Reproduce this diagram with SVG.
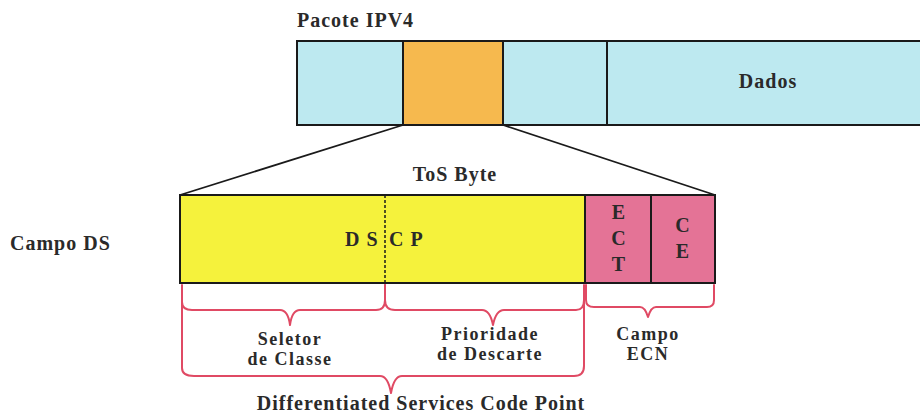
<svg xmlns="http://www.w3.org/2000/svg" width="920" height="417" viewBox="0 0 920 417">
<style>
.t{font-family:"Liberation Serif","DejaVu Serif","Times New Roman",serif;font-weight:bold;font-size:20px;letter-spacing:1px;fill:#2a2a2a}
.s{font-size:18px;letter-spacing:1.5px}
.c{text-anchor:middle}
.box{stroke:#1a1a1a;stroke-width:2}
.br{fill:none;stroke:#e04a64;stroke-width:2;stroke-linejoin:round;stroke-linecap:round}
</style>
<rect width="920" height="417" fill="#ffffff"/>
<g id="pacote">
<text class="t" x="297" y="27">Pacote IPV4</text>
<rect class="box" x="297" y="41" width="106" height="84" fill="#bde9f0"/>
<rect class="box" x="403" y="41" width="100" height="84" fill="#f6b94e"/>
<rect class="box" x="503" y="41" width="104" height="84" fill="#bde9f0"/>
<rect class="box" x="607" y="41" width="320" height="84" fill="#bde9f0"/>
<text class="t c" x="768" y="88">Dados</text>
</g>
<g id="connectors">
<line x1="403" y1="125" x2="180" y2="195" stroke="#1a1a1a" stroke-width="1.8"/>
<line x1="503" y1="125" x2="715" y2="195" stroke="#1a1a1a" stroke-width="1.8"/>
</g>
<g id="tos">
<text class="t c" x="455" y="181">ToS Byte</text>
<rect class="box" x="180" y="195" width="405" height="88" fill="#f5f23c"/>
<line x1="385" y1="195" x2="385" y2="283" stroke="#1a1a1a" stroke-width="1.5" stroke-dasharray="3,2"/>
<text class="t" x="345" y="246">D S</text>
<text class="t" x="389" y="246">C P</text>
<rect class="box" x="585" y="195" width="66" height="88" fill="#e47396"/>
<rect class="box" x="651" y="195" width="64" height="88" fill="#e47396"/>
<text class="t c" x="619" y="219">E</text>
<text class="t c" x="619" y="245">C</text>
<text class="t c" x="619" y="271">T</text>
<text class="t c" x="683" y="232">C</text>
<text class="t c" x="683" y="258">E</text>
</g>
<text class="t" x="10" y="250">Campo DS</text>
<g id="braces">
<path class="br" d="M182,285 L182,302 Q182,310 192,310 L280,310 Q288,310 290,325 Q292,310 300,310 L376,310 Q385,310 385,300 L385,285"/>
<path class="br" d="M385,285 L385,300 Q385,310 395,310 L482,310 Q490,310 493,325 Q496,310 504,310 L576,310 Q584,310 584,300 L584,285"/>
<path class="br" d="M586,285 L586,300 Q586,307 594,307 L640,307 Q645,307 648,317 Q651,307 656,307 L707,307 Q714,307 714,300 L714,285"/>
<path class="br" d="M182,302 L182,368 Q182,376 194,376 L380,376 Q388,376 391,393 Q394,376 402,376 L574,376 Q584,376 584,366 L584,300"/>
</g>
<g id="labels">
<text class="t s c" x="290" y="345">Seletor</text>
<text class="t s c" x="290" y="365">de Classe</text>
<text class="t s c" x="490" y="340">Prioridade</text>
<text class="t s c" x="490" y="360">de Descarte</text>
<text class="t s c" x="648" y="340">Campo</text>
<text class="t s c" x="648" y="360">ECN</text>
<text class="t c" x="421" y="410">Differentiated Services Code Point</text>
</g>
</svg>
